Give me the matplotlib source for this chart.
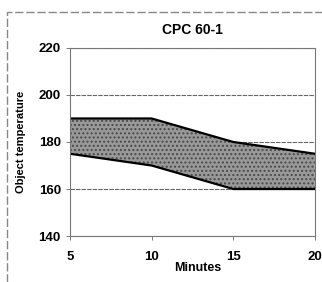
import matplotlib.pyplot as plt
from matplotlib.patches import Rectangle

minutes = [5, 10, 15, 20]
upper = [190, 190, 180, 175]
lower = [175, 170, 160, 160]
y_ticks = [140, 160, 180, 200, 220]

plt.rcParams['font.family'] = ['Liberation Sans', 'DejaVu Sans']
plt.rcParams['hatch.color'] = '#4a4a4a'
plt.rcParams['hatch.linewidth'] = 1.0

fig = plt.figure(figsize=(3.22, 2.82), dpi=100)
ax = fig.add_axes([0.217, 0.163, 0.761, 0.667])

ax.fill_between(minutes, lower, upper, facecolor='#999999', hatch='....',
                linewidth=0)
ax.plot(minutes, upper, color='black', lw=1.6)
ax.plot(minutes, lower, color='black', lw=1.6)

for v in y_ticks:
    ax.axhline(v, color='#666666', lw=0.8, ls=(0, (4, 1)), zorder=0)

ax.set_xlim(5, 20)
ax.set_ylim(140, 220)
ax.set_xticks(minutes)
ax.set_yticks(y_ticks)
ax.tick_params(axis='both', length=3, width=0.6, color='#666666',
               labelsize=9.5)
ax.tick_params(axis='x', pad=8)
for lbl in ax.get_xticklabels() + ax.get_yticklabels():
    lbl.set_fontweight('bold')

for s in ax.spines.values():
    s.set_color('#777777')
    s.set_linewidth(0.8)
    s.set_linestyle((0, (4, 1)))

ax.set_title('CPC 60-1', fontsize=10, fontweight='bold', pad=10)
ax.set_xlabel('Minutes', fontsize=9, fontweight='bold')
ax.xaxis.set_label_coords(0.52, -0.14)
ax.set_ylabel('Object temperature', fontsize=8, fontweight='bold')
ax.yaxis.set_label_coords(-0.18, 0.5)

# outer chart frame
fig.patches.append(Rectangle((0.022, -0.05), 1.1, 1.0075, transform=fig.transFigure,
                             fill=False, edgecolor='#888888', lw=1.0,
                             ls=(0, (6, 2))))

fig.savefig('out.png', dpi=100)
